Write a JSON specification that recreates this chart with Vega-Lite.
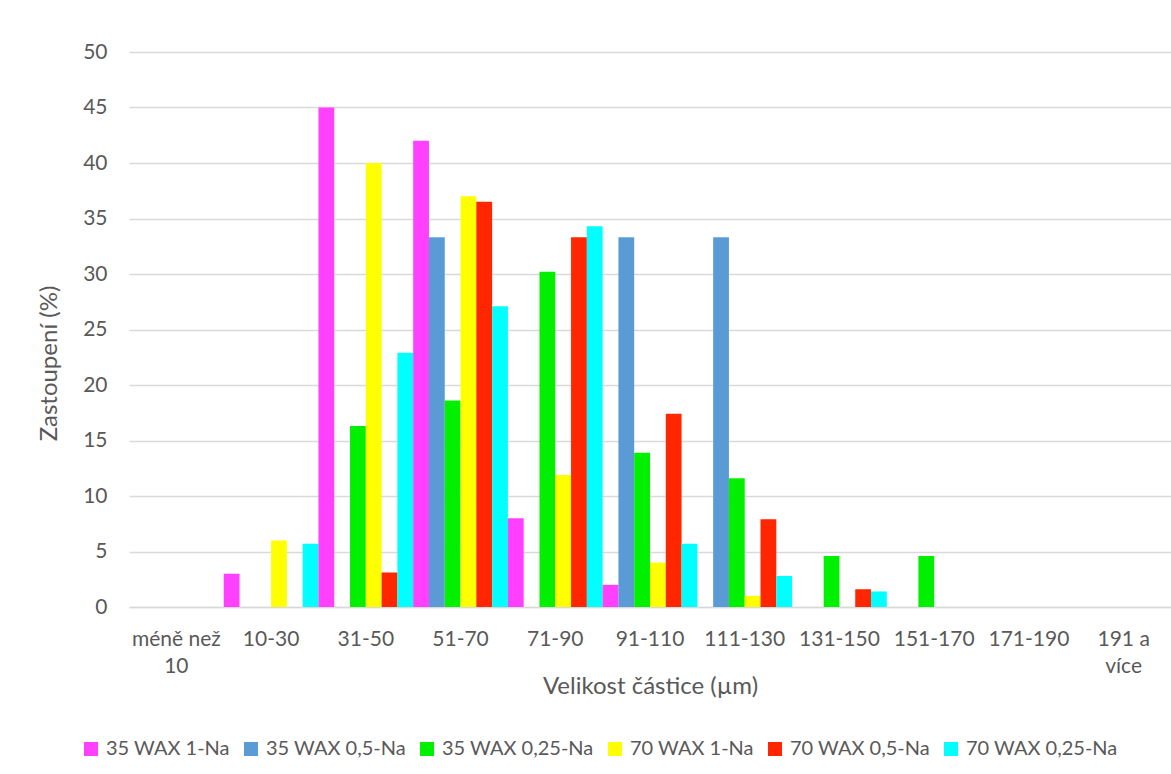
{
  "$schema": "https://vega.github.io/schema/vega-lite/v6.json",
  "autosize": "none",
  "width": 1042,
  "height": 555,
  "padding": {"left": 129, "top": 52, "right": 0, "bottom": 167},
  "background": "white",
  "config": {
    "font": "Lato",
    "view": {"stroke": null},
    "axis": {"labelFont": "Lato", "titleFont": "Lato", "labelColor": "#595959", "titleColor": "#595959", "titleFontWeight": "normal"},
    "legend": {"labelFont": "Lato"}
  },
  "data": {
    "values": [
      {"cat": "10-30", "series": "35 WAX 1-Na", "value": 3},
      {"cat": "10-30", "series": "70 WAX 1-Na", "value": 6},
      {"cat": "10-30", "series": "70 WAX 0,25-Na", "value": 5.7},
      {"cat": "31-50", "series": "35 WAX 1-Na", "value": 45},
      {"cat": "31-50", "series": "35 WAX 0,25-Na", "value": 16.3},
      {"cat": "31-50", "series": "70 WAX 1-Na", "value": 40},
      {"cat": "31-50", "series": "70 WAX 0,5-Na", "value": 3.1},
      {"cat": "31-50", "series": "70 WAX 0,25-Na", "value": 22.9},
      {"cat": "51-70", "series": "35 WAX 1-Na", "value": 42},
      {"cat": "51-70", "series": "35 WAX 0,5-Na", "value": 33.3},
      {"cat": "51-70", "series": "35 WAX 0,25-Na", "value": 18.6},
      {"cat": "51-70", "series": "70 WAX 1-Na", "value": 37},
      {"cat": "51-70", "series": "70 WAX 0,5-Na", "value": 36.5},
      {"cat": "51-70", "series": "70 WAX 0,25-Na", "value": 27.1},
      {"cat": "71-90", "series": "35 WAX 1-Na", "value": 8},
      {"cat": "71-90", "series": "35 WAX 0,25-Na", "value": 30.2},
      {"cat": "71-90", "series": "70 WAX 1-Na", "value": 11.9},
      {"cat": "71-90", "series": "70 WAX 0,5-Na", "value": 33.3},
      {"cat": "71-90", "series": "70 WAX 0,25-Na", "value": 34.3},
      {"cat": "91-110", "series": "35 WAX 1-Na", "value": 2},
      {"cat": "91-110", "series": "35 WAX 0,5-Na", "value": 33.3},
      {"cat": "91-110", "series": "35 WAX 0,25-Na", "value": 13.9},
      {"cat": "91-110", "series": "70 WAX 1-Na", "value": 4},
      {"cat": "91-110", "series": "70 WAX 0,5-Na", "value": 17.4},
      {"cat": "91-110", "series": "70 WAX 0,25-Na", "value": 5.7},
      {"cat": "111-130", "series": "35 WAX 0,5-Na", "value": 33.3},
      {"cat": "111-130", "series": "35 WAX 0,25-Na", "value": 11.6},
      {"cat": "111-130", "series": "70 WAX 1-Na", "value": 1},
      {"cat": "111-130", "series": "70 WAX 0,5-Na", "value": 7.9},
      {"cat": "111-130", "series": "70 WAX 0,25-Na", "value": 2.8},
      {"cat": "131-150", "series": "35 WAX 0,25-Na", "value": 4.6},
      {"cat": "131-150", "series": "70 WAX 0,5-Na", "value": 1.6},
      {"cat": "131-150", "series": "70 WAX 0,25-Na", "value": 1.4},
      {"cat": "151-170", "series": "35 WAX 0,25-Na", "value": 4.6}
    ]
  },
  "mark": {"type": "bar"},
  "encoding": {
    "x": {
      "field": "cat",
      "type": "nominal",
      "sort": null,
      "scale": {
        "domain": ["méně než 10", "10-30", "31-50", "51-70", "71-90", "91-110", "111-130", "131-150", "151-170", "171-190", "191 a více"],
        "paddingInner": 0,
        "paddingOuter": 0
      },
      "axis": {
        "title": "Velikost částice (µm)",
        "titleFontSize": 24,
        "titleY": 79,
        "titleBaseline": "middle",
        "labelFontSize": 21,
        "labelAngle": 0,
        "labelPadding": 21,
        "labelLineHeight": 27,
        "labelExpr": "datum.value == 'méně než 10' ? ['méně než', '10'] : datum.value == '191 a více' ? ['191 a', 'více'] : datum.value",
        "ticks": false,
        "domainColor": "#D9D9D9",
        "domainWidth": 1.5,
        "labelBound": false,
        "labelOverlap": false
      }
    },
    "xOffset": {
      "field": "series",
      "type": "nominal",
      "scale": {
        "domain": ["35 WAX 1-Na", "35 WAX 0,5-Na", "35 WAX 0,25-Na", "70 WAX 1-Na", "70 WAX 0,5-Na", "70 WAX 0,25-Na"],
        "paddingInner": 0,
        "paddingOuter": 0
      }
    },
    "y": {
      "field": "value",
      "type": "quantitative",
      "scale": {"domain": [0, 50], "nice": false},
      "axis": {
        "title": "Zastoupení (%)",
        "titleFontSize": 24,
        "titleX": -80,
        "titleY": 311,
        "titleBaseline": "middle",
        "titleAlign": "center",
        "titleAngle": -90,
        "labelFontSize": 21,
        "labelPadding": 22,
        "values": [0, 5, 10, 15, 20, 25, 30, 35, 40, 45, 50],
        "labelOverlap": false,
        "ticks": false,
        "domain": false,
        "gridColor": "#D9D9D9",
        "gridWidth": 1.5
      }
    },
    "color": {
      "field": "series",
      "type": "nominal",
      "scale": {
        "domain": ["35 WAX 1-Na", "35 WAX 0,5-Na", "35 WAX 0,25-Na", "70 WAX 1-Na", "70 WAX 0,5-Na", "70 WAX 0,25-Na"],
        "range": ["#FF40FF", "#5B9BD5", "#00F000", "#FFFF00", "#FF2600", "#00FFFF"]
      },
      "legend": {
        "title": null,
        "orient": "none",
        "legendX": -48,
        "legendY": 687,
        "direction": "horizontal",
        "columns": 6,
        "symbolType": "square",
        "symbolSize": 196,
        "symbolStrokeWidth": 0,
        "labelFontSize": 20,
        "labelColor": "#595959",
        "labelOffset": 5,
        "columnPadding": 11
      }
    }
  }
}
